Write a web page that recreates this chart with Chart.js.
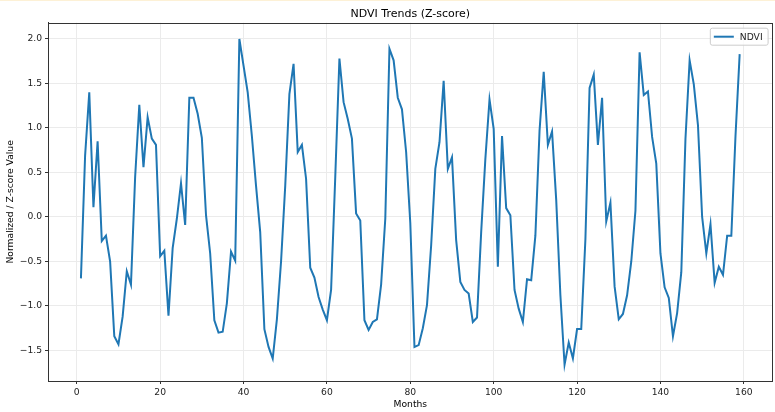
<!DOCTYPE html>
<html>
<head>
<meta charset="utf-8">
<script src="https://cdn.jsdelivr.net/npm/chart.js@4/dist/chart.umd.min.js"></script>
<style>
    html, body { margin: 0; padding: 0; background: #fff; overflow: hidden; }
    #wrap { width: 775px; height: 412px; position: relative; }
    #topline { position: absolute; left: 0; top: 0; width: 775px; height: 1px; background: #fdf1d6; }
</style>
</head>
<body>
<div id="wrap"><canvas id="ndviChart"></canvas><div id="topline"></div></div>
<script>
// NDVI z-scores, one value per month (month 1 .. 159)
const ndvi = [
    -0.69, 0.69, 1.40, 0.11, 0.85, -0.27, -0.21, -0.50, -1.34, -1.43,
    -1.12, -0.61, -0.76, 0.45, 1.26, 0.56, 1.12, 0.88, 0.81, -0.44,
    -0.38, -1.11, -0.35, -0.02, 0.38, -0.09, 1.34, 1.34, 1.16, 0.89,
    0.02, -0.41, -1.16, -1.30, -1.29, -0.97, -0.39, -0.49, 2.00, 1.70,
    1.40, 0.91, 0.35, -0.17, -1.26, -1.46, -1.59, -1.15, -0.50, 0.35,
    1.38, 1.72, 0.73, 0.81, 0.43, -0.57, -0.68, -0.90, -1.04, -1.16,
    -0.82, 0.45, 1.78, 1.29, 1.10, 0.88, 0.04, -0.04, -1.16, -1.27,
    -1.18, -1.15, -0.76, -0.02, 1.89, 1.76, 1.34, 1.21, 0.73, -0.07,
    -1.46, -1.44, -1.25, -0.99, -0.32, 0.54, 0.84, 1.53, 0.54, 0.67,
    -0.26, -0.73, -0.82, -0.86, -1.18, -1.13, -0.17, 0.65, 1.32, 0.99,
    -0.56, 0.91, 0.10, 0.02, -0.82, -1.03, -1.18, -0.70, -0.71, -0.21,
    0.97, 1.63, 0.81, 0.96, 0.19, -0.88, -1.66, -1.41, -1.59, -1.26,
    -1.26, -0.25, 1.45, 1.60, 0.81, 1.34, -0.05, 0.16, -0.78, -1.15,
    -1.09, -0.88, -0.50, 0.07, 1.85, 1.37, 1.41, 0.90, 0.60, -0.41,
    -0.79, -0.91, -1.34, -1.08, -0.62, 0.88, 1.76, 1.49, 1.03, 0.00,
    -0.41, -0.08, -0.74, -0.56, -0.65, -0.21, -0.21, 0.91, 1.83
];
const months = ndvi.map((_, i) => i + 1);

const xTicks = [0, 20, 40, 60, 80, 100, 120, 140, 160];
const yTicks = [-1.5, -1.0, -0.5, 0.0, 0.5, 1.0, 1.5, 2.0];

const FONT = 'DejaVu Sans';

// matplotlib-style 5% margins around the data
function padRange(vals) {
    const lo = Math.min(...vals), hi = Math.max(...vals);
    const m = (hi - lo) * 0.05;
    return [lo - m, hi + m];
}
const [xMin, xMax] = padRange(months);
const [yMin, yMax] = padRange(ndvi);

// top/right spines + legend box like matplotlib
const framePlugin = {
    id: 'frame',
    afterDraw(chart) {
        const { ctx, chartArea: a } = chart;
        ctx.save();
        ctx.strokeStyle = '#333';
        ctx.lineWidth = 1;
        ctx.strokeRect(Math.round(a.left) + 0.5, Math.round(a.top) + 0.5,
            Math.round(a.right - a.left) - 1, Math.round(a.bottom - a.top));

        const ds = chart.data.datasets[0];
        ctx.font = `9.2px "${FONT}"`;
        const tw = ctx.measureText(ds.label).width;
        const right = a.right - 5, top = a.top + 5;
        const h = 17;
        const w = 4 + 20 + 6 + tw + 5;
        const left = right - w;
        ctx.beginPath();
        ctx.roundRect(left + 0.5, top + 0.5, w, h, 2);
        ctx.fillStyle = 'rgba(255,255,255,0.8)';
        ctx.fill();
        ctx.strokeStyle = '#cccccc';
        ctx.stroke();
        ctx.beginPath();
        ctx.moveTo(left + 4, top + h / 2 + 0.5);
        ctx.lineTo(left + 24, top + h / 2 + 0.5);
        ctx.strokeStyle = ds.borderColor;
        ctx.lineWidth = 2;
        ctx.stroke();
        ctx.fillStyle = '#222';
        ctx.textBaseline = 'middle';
        ctx.fillText(ds.label, left + 30, top + h / 2 + 1);
        ctx.restore();
    }
};

const fmt = v => (v < 0 ? '\u2212' : '') + Math.abs(v).toFixed(1);

new Chart(document.getElementById('ndviChart'), {
    type: 'line',
    data: {
        datasets: [{
            label: 'NDVI',
            data: months.map((m, i) => ({ x: m, y: ndvi[i] })),
            borderColor: '#1f77b4',
            borderWidth: 2,
            pointRadius: 0,
            tension: 0,
            fill: false
        }]
    },
    options: {
        responsive: true,
        maintainAspectRatio: false,
        animation: false,
        layout: { padding: { left: 0, right: 2.4, top: 0, bottom: 0 } },
        plugins: {
            legend: { display: false },
            tooltip: { enabled: false },
            title: {
                display: true,
                text: 'NDVI Trends (Z-score)',
                fullSize: false,
                color: '#000',
                font: { family: FONT, size: 11, weight: 'normal' },
                padding: { top: 7.4, bottom: 2.1 }
            }
        },
        scales: {
            x: {
                type: 'linear',
                min: xMin,
                max: xMax,
                afterBuildTicks: s => { s.ticks = xTicks.map(v => ({ value: v })); },
                afterFit: s => { s.height = 31; },
                grid: { color: '#ebebeb', lineWidth: 1, tickColor: '#333', tickLength: 3 },
                border: { color: '#333', width: 1 },
                ticks: {
                    color: '#222',
                    font: { family: FONT, size: 9.2 },
                    padding: 3,
                    maxRotation: 0,
                    callback: v => String(v)
                },
                title: {
                    display: true,
                    text: 'Months',
                    color: '#000',
                    font: { family: FONT, size: 9.2 },
                    padding: { top: 0, bottom: 1.5 }
                }
            },
            y: {
                min: yMin,
                max: yMax,
                afterBuildTicks: s => { s.ticks = yTicks.map(v => ({ value: v })); },
                afterFit: s => { s.width = 48; },
                grid: { color: '#ebebeb', lineWidth: 1, tickColor: '#333', tickLength: 3 },
                border: { color: '#333', width: 1 },
                ticks: {
                    color: '#222',
                    font: { family: FONT, size: 9.2 },
                    padding: 3,
                    callback: v => fmt(v)
                },
                title: {
                    display: true,
                    text: 'Normalized / Z-score Value',
                    color: '#000',
                    font: { family: FONT, size: 9.2 },
                    padding: { top: 4.6, bottom: 0 }
                }
            }
        }
    },
    plugins: [framePlugin]
});
</script>
</body>
</html>
